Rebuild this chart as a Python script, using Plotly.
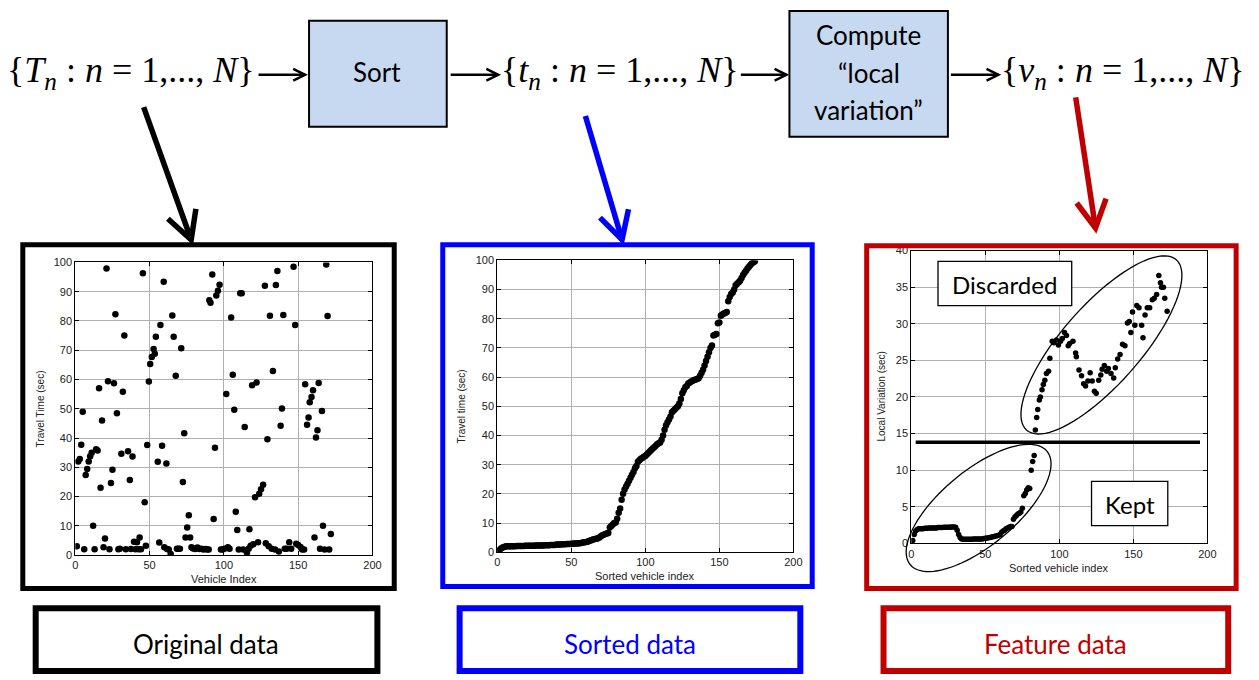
import math
import plotly.graph_objects as go

W, H = 1259, 680

# ---- Original data: vehicle index vs. travel time (sec)
orig_index = [1, 2, 3, 4, 5, 6, 7, 8, 9, 10, 11, 12, 13, 14, 15, 16, 17, 18, 19, 20,
              21, 22, 23, 24, 25, 26, 27, 28, 29, 30, 31, 32, 33, 34, 35.5, 36.7, 37.5, 38.5, 39.5, 40.5,
              41.5, 42.7, 43.3, 44.2, 45.5, 46.7, 47.5, 48.4, 49.5, 50.4, 51.5, 52.7, 53.5, 54.2, 55.5, 56.5, 57.3, 58.4, 59.5, 59.9,
              61.3, 61.8, 62.9, 64.2, 65.3, 66.2, 67.6, 68.4, 69.3, 70.4, 71.3, 72.4, 73.3, 74.2, 75.3, 76.4, 77.3, 78.2, 79.3, 80.7,
              82.2, 83.6, 84.9, 86.2, 87.6, 88.7, 89.8, 90.2, 91.0, 92.2, 93.1, 94.0, 94.9, 96.0, 97.1, 98.0, 99.1, 100.4, 101.6, 102.7,
              103.8, 104.9, 106.0, 107.0, 108.0, 109.0, 110.0, 111.0, 112.0, 113.0, 114.0, 115.5, 116.7, 117.2, 118.0, 119.0, 119.8, 121.0, 122.0, 123.0,
              123.8, 125.0, 126.4, 127.6, 128.2, 129.3, 130.2, 131.0, 132.2, 133.0, 134.4, 135.0, 136.0, 137.0, 138.2, 139.1, 140.0, 141.0, 142.2, 144.0,
              145.3, 146.9, 148.0, 148.7, 150.0, 151.6, 152.7, 154.0, 154.7, 156.0, 157.0, 157.8, 159.0, 160.0, 161.0, 162.0, 163.0, 163.8, 164.7, 166.0,
              166.7, 167.8, 168.9, 169.8, 170.9, 172.0]
orig_time = [3.0, 32.0, 32.8, 37.7, 49.0, 2.0, 27.4, 29.4, 32.0, 33.8, 35.0, 10.0, 2.0, 36.2, 35.7, 57.0, 23.0, 46.0, 2.7, 5.7,
             97.9, 59.4, 2.0, 24.6, 29.2, 58.7, 82.3, 48.5, 2.0, 2.2, 34.6, 55.8, 75.0, 2.0, 35.5, 25.7, 2.1, 33.7, 4.6, 2.0,
             4.4, 2.0, 6.0, 2.0, 96.3, 18.1, 3.2, 37.6, 59.3, 65.3, 67.7, 70.4, 68.8, 74.6, 31.9, 4.3, 78.6, 37.4, 93.4, 2.7,
             31.3, 2.1, 1.9, 0.4, 81.9, 74.6, 61.3, 2.2, 2.2, 2.2, 70.7, 25.0, 41.6, 6.0, 9.4, 13.6, 6.0, 2.7, 2.3, 2.1,
             2.6, 2.1, 2.2, 1.9, 2.1, 1.9, 1.9, 87.1, 86.2, 95.9, 12.3, 36.7, 88.7, 90.3, 92.4, 1.9, 1.9, 2.2, 55.0, 2.7,
             2.2, 81.2, 61.6, 49.7, 14.8, 8.6, 1.9, 89.5, 89.5, 1.9, 43.8, 0.8, 2.2, 8.8, 3.2, 58.0, 3.7, 19.8, 59.0, 4.4,
             21.0, 22.5, 24.0, 92.0, 4.1, 39.6, 3.0, 81.8, 2.2, 62.9, 1.9, 92.3, 97.1, 1.2, 44.2, 50.1, 82.0, 2.2, 2.2, 4.4,
             2.2, 98.5, 78.6, 3.9, 3.5, 2.8, 1.9, 1.9, 58.4, 44.5, 47.0, 52.2, 54.0, 56.3, 6.0, 40.2, 42.7, 58.8, 2.2, 49.2,
             10.0, 1.9, 99.3, 81.7, 1.9, 7.2]

# ---- Sorted data: travel time (sec) in ascending order
sorted_time = [0.5, 1.0, 1.4, 1.7, 1.9, 2.0, 2.0, 2.0, 2.0, 2.0,
               2.0, 2.0, 2.1, 2.1, 2.1, 2.1, 2.1, 2.1, 2.2, 2.2,
               2.2, 2.2, 2.2, 2.2, 2.2, 2.3, 2.3, 2.3, 2.3, 2.3,
               2.3, 2.4, 2.4, 2.4, 2.4, 2.5, 2.5, 2.5, 2.5, 2.6,
               2.6, 2.6, 2.6, 2.7, 2.7, 2.7, 2.8, 2.8, 2.8, 2.9,
               2.9, 3.0, 3.0, 3.0, 3.1, 3.1, 3.2, 3.3, 3.4, 3.5,
               3.6, 3.8, 4.0, 4.2, 4.4, 4.5, 4.6, 4.8, 5.0, 5.5,
               5.8, 6.0, 6.2, 6.4, 6.6, 8.5, 9.0, 9.5, 10.0, 10.2,
               11.5, 13.5, 15.0, 18.0, 20.0, 21.5, 22.5, 23.5, 24.5, 25.5,
               26.5, 27.5, 28.8, 29.5, 31.0, 31.5, 32.0, 32.3, 32.7, 33.0,
               33.5, 34.0, 34.5, 35.0, 35.5, 36.0, 36.5, 37.0, 37.3, 37.6,
               38.5, 40.0, 42.0, 43.5, 44.5, 45.5, 46.5, 48.0, 48.5, 49.0,
               49.5, 50.0, 51.0, 52.5, 54.5, 55.5, 56.5, 57.0, 57.8, 58.2,
               58.5, 58.8, 59.0, 59.2, 59.4, 59.6, 60.5, 61.5, 62.5, 64.0,
               65.5, 67.0, 68.5, 70.0, 70.8, 74.3, 74.5, 74.8, 78.5, 78.7,
               81.0, 81.5, 81.8, 82.0, 82.3, 86.0, 87.5, 88.5, 89.0, 90.0,
               91.5, 92.0, 92.5, 93.0, 94.0, 95.0, 95.8, 96.5, 97.2, 97.8,
               98.4, 99.0, 99.4, 99.7]
sorted_index = list(range(1, len(sorted_time) + 1))

# ---- Feature data: local variation (sec), kept part (indices 1..83)
kept_var = [0.4, 1.2, 1.7, 1.9, 2.0, 2.0, 2.0, 2.0, 2.05, 2.05,
            2.05, 2.1, 2.1, 2.1, 2.1, 2.1, 2.1, 2.15, 2.15, 2.15,
            2.15, 2.2, 2.2, 2.2, 2.2, 2.2, 2.25, 2.25, 2.25, 2.2,
            1.8, 1.2, 0.8, 0.6, 0.55, 0.55, 0.55, 0.55, 0.55, 0.55,
            0.55, 0.6, 0.6, 0.6, 0.6, 0.6, 0.6, 0.6, 0.65, 0.7,
            0.7, 0.75, 0.8, 0.85, 0.9, 0.95, 1.0, 1.05, 1.1, 1.2,
            1.5, 1.7, 1.8, 2.0, 2.1, 2.2, 2.3, 2.3, 3.3, 3.6,
            3.8, 4.0, 4.1, 4.3, 4.8, 6.5, 6.8, 7.3, 7.6, 7.5,
            10.0, 11.2, 12.0]
kept_index = list(range(1, len(kept_var) + 1))

# discarded part
disc_index = [83.8, 84.7, 85.4, 86.5, 87.2, 88.3, 89.2, 90.2, 91.3, 92.7, 93.6, 95.2, 96.3, 98.0, 99.4,
              100.8, 102.0, 103.5, 104.8, 106.0, 107.0, 109.2, 111.0, 111.5, 113.3, 115.0, 116.4, 117.7, 119.3, 120.8,
              122.2, 123.7, 124.9, 126.6, 128.0, 128.9, 130.4, 132.0, 133.1, 134.9, 136.7, 137.8, 139.4, 141.0, 142.7,
              144.3, 146.0, 147.2, 148.3, 149.4, 151.0, 152.3, 153.8, 155.6, 156.5, 157.9, 159.4, 161.0, 162.8, 164.1,
              165.7, 167.2, 168.3, 169.0, 170.3, 171.2, 172.8]
disc_var = [15.5, 17.2, 18.3, 19.6, 20.0, 21.0, 21.7, 22.3, 23.2, 23.5, 25.3, 27.6, 27.4, 27.8, 27.1,
            27.6, 28.0, 28.8, 28.4, 27.0, 27.3, 27.6, 26.0, 25.5, 23.7, 22.9, 21.8, 21.5, 22.2, 23.3,
            22.2, 20.8, 20.5, 22.3, 23.0, 23.8, 24.3, 23.5, 23.9, 23.2, 22.6, 24.0, 25.2, 25.8, 27.2,
            27.0, 30.1, 30.3, 28.8, 31.6, 29.8, 32.5, 32.2, 29.8, 28.1, 31.2, 32.2, 32.2, 33.3, 33.5,
            34.0, 36.6, 35.6, 35.0, 35.0, 33.5, 31.7]

threshold = 13.8

# ---- pixel -> paper helpers
def px(x):
    return x / W


def py(y):
    return 1 - y / H


def dom_x(a, b):
    return [px(a), px(b)]


def dom_y(top, bottom):
    return [py(bottom), py(top)]


fig = go.Figure()

fig.add_trace(go.Scatter(x=orig_index, y=orig_time, mode="markers",
                         marker=dict(color="black", size=6.5), xaxis="x", yaxis="y"))
fig.add_trace(go.Scatter(x=sorted_index, y=sorted_time, mode="markers",
                         marker=dict(color="black", size=6.5), xaxis="x2", yaxis="y2"))
fig.add_trace(go.Scatter(x=kept_index, y=kept_var, mode="markers",
                         marker=dict(color="black", size=5.5), xaxis="x3", yaxis="y3"))
fig.add_trace(go.Scatter(x=disc_index, y=disc_var, mode="markers",
                         marker=dict(color="black", size=5.5), xaxis="x3", yaxis="y3"))

tickfont = dict(family="Liberation Sans", size=11, color="#222")


def axis(domain, rng, dtick, anchor):
    return dict(domain=domain, range=rng, dtick=dtick, anchor=anchor,
                showgrid=True, gridcolor="#b0b0b0", gridwidth=1, zeroline=False,
                showline=True, linecolor="black", linewidth=1, mirror="ticks",
                ticks="inside", ticklen=4, tickcolor="black", tickfont=tickfont,
                fixedrange=True)


layout = dict(
    width=W, height=H, margin=dict(l=0, r=0, t=0, b=0),
    paper_bgcolor="white", plot_bgcolor="white", showlegend=False,
    xaxis=axis(dom_x(73, 373), [0, 200], 50, "y"),
    yaxis=axis(dom_y(261, 559), [0, 100], 10, "x"),
    xaxis2=axis(dom_x(499, 798), [0, 200], 50, "y2"),
    yaxis2=axis(dom_y(259, 556), [0, 100], 10, "x2"),
    xaxis3=axis(dom_x(917, 1216), [0, 200], 50, "y3"),
    yaxis3=axis(dom_y(249, 547), [0, 40], 5, "x3"),
)
fig.update_layout(**layout)

shapes = []
annotations = []


def rect(x0, y0, x1, y1, color, width, fill=None):
    shapes.append(dict(type="rect", xref="paper", yref="paper",
                       x0=px(x0), x1=px(x1), y0=py(y1), y1=py(y0),
                       line=dict(color=color, width=width),
                       fillcolor=fill if fill else "rgba(0,0,0,0)", layer="above"))


def arrow(x0, y0, x1, y1, color, width, head_len, head_half):
    dx, dy = x1 - x0, y1 - y0
    L = math.hypot(dx, dy)
    ux, uy = dx / L, dy / L
    nx, ny = -uy, ux
    bx, by = x1 - head_len * ux, y1 - head_len * uy
    w1 = (bx + head_half * nx, by + head_half * ny)
    w2 = (bx - head_half * nx, by - head_half * ny)
    shapes.append(dict(type="line", xref="paper", yref="paper",
                       x0=px(x0), y0=py(y0), x1=px(x1), y1=py(y1),
                       line=dict(color=color, width=width), layer="above"))
    path = "M{:.5f},{:.5f} L{:.5f},{:.5f} L{:.5f},{:.5f}".format(
        px(w1[0]), py(w1[1]), px(x1), py(y1), px(w2[0]), py(w2[1]))
    shapes.append(dict(type="path", xref="paper", yref="paper", path=path,
                       line=dict(color=color, width=width), layer="above"))


def ellipse(cx, cy, a, b, ang_deg, n=90):
    th = math.radians(ang_deg)
    pts = []
    for i in range(n):
        t = 2 * math.pi * i / n
        x = cx + a * math.cos(t) * math.cos(th) - b * math.sin(t) * math.sin(th)
        y = cy - (a * math.cos(t) * math.sin(th) + b * math.sin(t) * math.cos(th))
        pts.append("{:.5f},{:.5f}".format(px(x), py(y)))
    path = "M" + " L".join(pts) + " Z"
    shapes.append(dict(type="path", xref="paper", yref="paper", path=path,
                       line=dict(color="black", width=1.3), layer="above"))


def text(x, y, s, size, color="black", family="Lato", **kw):
    annotations.append(dict(x=px(x), y=py(y), xref="paper", yref="paper", text=s,
                            showarrow=False, xanchor="center", yanchor="middle",
                            font=dict(family=family, size=size, color=color), **kw))


BLUE = "#0000ff"
RED = "#c00000"

# panel frames
rect(20, 243, 395, 593, "black", 5)
rect(444, 243, 817, 591, BLUE, 5)
rect(872, 244, 1245, 593, RED, 5)

# caption boxes
rect(33, 613, 378, 677, "black", 6)
rect(461, 613, 805, 677, BLUE, 6)
rect(889, 613, 1237, 677, RED, 6)
text(205, 649, "Original data", 26)
text(633, 649, "Sorted data", 26, color=BLUE)
text(1063, 649, "Feature data", 26, color=RED)

# processing blocks
rect(309, 15, 448, 123, "black", 2, fill="#c6d9f1")
rect(794, 5, 954, 133, "black", 2, fill="#c6d9f1")
text(378, 67, "Sort", 26)
text(874, 30, "Compute", 26)
text(874, 68, "\u201clocal", 26)
text(874, 106, "variation\u201d", 26)

# set notation
serif = "Liberation Serif"
text(129, 68, "{<i>T</i><sub><i>n</i></sub> : <i>n</i> = 1,..., <i>N</i>}", 36, family=serif)
text(623, 68, "{<i>t</i><sub><i>n</i></sub> : <i>n</i> = 1,..., <i>N</i>}", 36, family=serif)
text(1130, 68, "{<i>v</i><sub><i>n</i></sub> : <i>n</i> = 1,..., <i>N</i>}", 36, family=serif)

# flow arrows
arrow(258, 70, 305, 70, "black", 2.5, 12, 6)
arrow(452, 70, 500, 70, "black", 2.5, 12, 6)
arrow(745, 70, 791, 70, "black", 2.5, 12, 6)
arrow(957, 70, 1005, 70, "black", 2.5, 12, 6)

# pointer arrows to panels
arrow(142, 103, 190, 238, "black", 5.5, 28, 15)
arrow(588, 112, 625, 238, BLUE, 5.5, 28, 15)
arrow(1083, 93, 1103, 226, RED, 5.5, 28, 15)

# axis titles
axfont = 10
text(38, 410, "Travel Time (sec)", axfont, color="#222", family="Liberation Sans", textangle=-90)
text(223, 583, "Vehicle Index", axfont + 1, color="#222", family="Liberation Sans")
text(463, 408, "Travel time (sec)", axfont, color="#222", family="Liberation Sans", textangle=-90)
text(648, 580, "Sorted vehicle index", axfont + 1, color="#222", family="Liberation Sans")
text(887, 398, "Local Variation (sec)", axfont, color="#222", family="Liberation Sans", textangle=-90)
text(1066, 572, "Sorted vehicle index", axfont + 1, color="#222", family="Liberation Sans")

# threshold between kept and discarded features
shapes.append(dict(type="line", xref="x3", yref="y3", x0=3, x1=195,
                   y0=threshold, y1=threshold, line=dict(color="black", width=3.5)))

# grouping ellipses
ellipse(1109, 345, 115, 40, 49)
ellipse(985, 511, 90, 38, 40)

# labels inside the feature panel
rect(944, 260, 1079, 305, "black", 1.3, fill="white")
text(1011.5, 283, "Discarded", 24)
rect(1099, 484, 1176, 529, "black", 1.3, fill="white")
text(1137.5, 507, "Kept", 24)

fig.update_layout(shapes=shapes, annotations=annotations)
fig.write_html("out.html")
